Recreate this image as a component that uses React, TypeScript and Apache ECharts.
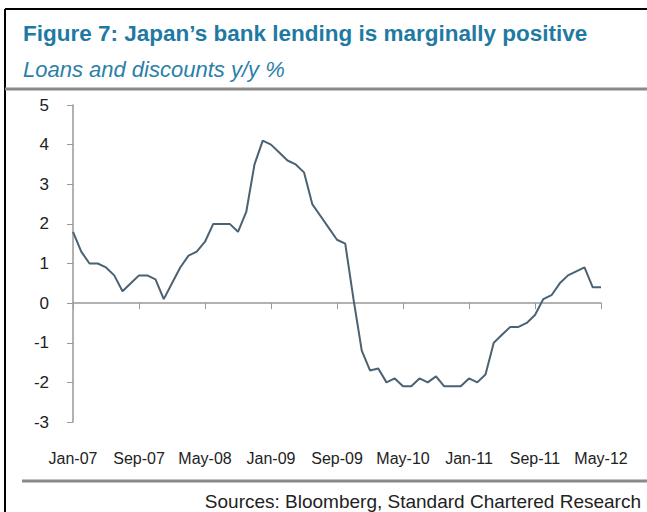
import React, { useEffect, useRef } from "react";
import * as echarts from "echarts";

const MONTHS = ["Jan", "Feb", "Mar", "Apr", "May", "Jun", "Jul", "Aug", "Sep", "Oct", "Nov", "Dec"];
const categories: string[] = [];
for (let y = 7; y <= 12; y++) {
  for (let m = 0; m < 12; m++) {
    if (y === 12 && m > 4) break;
    categories.push(`${MONTHS[m]}-${String(y).padStart(2, "0")}`);
  }
}

const loansYoY = [
  1.8, 1.3, 1.0, 1.0, 0.9, 0.7, 0.3, 0.5, 0.7, 0.7, 0.6, 0.1,
  0.5, 0.9, 1.2, 1.3, 1.55, 2.0, 2.0, 2.0, 1.8, 2.3, 3.5, 4.1,
  4.0, 3.8, 3.6, 3.5, 3.3, 2.5, 2.2, 1.9, 1.6, 1.5, 0.1, -1.2,
  -1.7, -1.65, -2.0, -1.9, -2.1, -2.1, -1.9, -2.0, -1.85, -2.1, -2.1, -2.1,
  -1.9, -2.0, -1.8, -1.0, -0.8, -0.6, -0.6, -0.5, -0.3, 0.1, 0.2, 0.5,
  0.7, 0.8, 0.9, 0.4, 0.4,
];

const titleText = "Figure 7: Japan\u2019s bank lending is marginally positive";
const subtitleText = "Loans and discounts y/y %";
const sourceText = "Sources: Bloomberg, Standard Chartered Research";

export default function App() {
  const ref = useRef<HTMLDivElement>(null);
  useEffect(() => {
    if (!ref.current) return;
    const chart = echarts.init(ref.current, null, { renderer: "svg" });
    const font = "Liberation Sans, Arial, sans-serif";
    chart.setOption({
      animation: false,
      backgroundColor: "#ffffff",
      textStyle: { fontFamily: font },
      title: [
        {
          text: titleText,
          subtext: subtitleText,
          left: 18,
          top: 17,
          itemGap: 13,
          textStyle: { fontFamily: font, fontSize: 22.5, fontWeight: "bold", color: "#1f7aa3" },
          subtextStyle: { fontFamily: font, fontSize: 22, fontStyle: "italic", color: "#2b7fa8" },
        },
        {
          text: sourceText,
          right: 1,
          top: 485,
          textStyle: { fontFamily: font, fontSize: 19, lineHeight: 22, fontWeight: "normal", color: "#222" },
        },
      ],
      graphic: [
        { type: "line", shape: { x1: 5, y1: 9, x2: 647, y2: 9 }, style: { stroke: "#000", lineWidth: 2 } },
        { type: "line", shape: { x1: 5, y1: 9, x2: 5, y2: 512 }, style: { stroke: "#000", lineWidth: 2 } },
        { type: "line", shape: { x1: 5, y1: 89, x2: 647, y2: 89 }, style: { stroke: "#8a8a8a", lineWidth: 3 } },
        { type: "line", shape: { x1: 22, y1: 481, x2: 647, y2: 481 }, style: { stroke: "#8a8a8a", lineWidth: 3 } },
      ],
      grid: { left: 73, right: 46, top: 105, bottom: 90, containLabel: false },
      xAxis: [
        {
          type: "category",
          data: categories,
          boundaryGap: false,
          position: "bottom",
          axisLine: { onZero: true, lineStyle: { color: "#999", width: 1.5 } },
          axisTick: { show: true, interval: 7, length: 6, lineStyle: { color: "#999" } },
          axisLabel: { show: false },
          splitLine: { show: false },
        },
        {
          type: "category",
          data: categories,
          boundaryGap: false,
          position: "bottom",
          axisLine: { show: false, onZero: false },
          axisTick: { show: false },
          axisLabel: { show: true, interval: 7, margin: 28, fontSize: 16, color: "#222", fontFamily: font },
          splitLine: { show: false },
        },
      ],
      yAxis: {
        type: "value",
        min: -3,
        max: 5,
        interval: 1,
        axisLine: { show: true, lineStyle: { color: "#999", width: 1.5 } },
        axisTick: { show: true, length: 6, lineStyle: { color: "#999" } },
        axisLabel: { margin: 24, fontSize: 17, color: "#222", fontFamily: font },
        splitLine: { show: false },
      },
      series: [
        {
          type: "line",
          xAxisIndex: 0,
          data: loansYoY,
          symbol: "none",
          lineStyle: { color: "#4a6273", width: 2 },
        },
      ],
    });
    return () => chart.dispose();
  }, []);
  return <div ref={ref} style={{ position: "fixed", left: 0, top: 0, width: 647, height: 512 }} />;
}
